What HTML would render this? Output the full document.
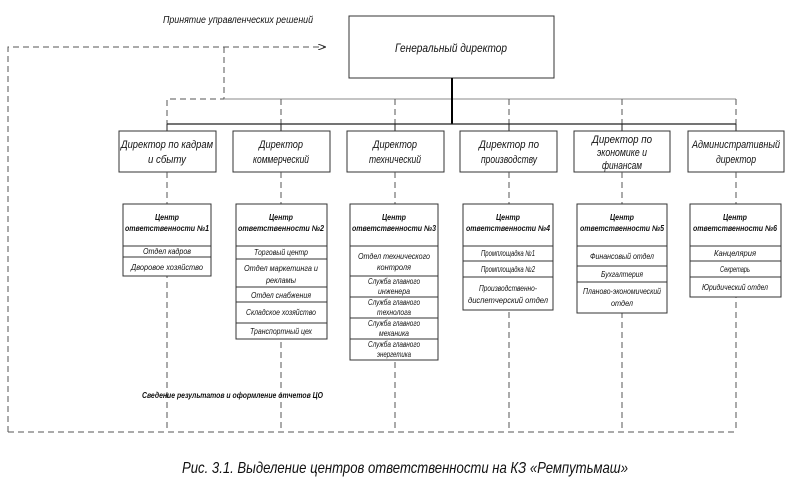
<!DOCTYPE html>
<html><head><meta charset="utf-8"><style>
html,body{margin:0;padding:0;background:#fff;}
svg{display:block;}
text{font-family:"Liberation Sans","DejaVu Sans",sans-serif;font-style:italic;fill:#111;}
.d{stroke:#555;stroke-width:1;stroke-dasharray:6,4;fill:none;}
.b{fill:#fff;stroke:#333;stroke-width:1;}
</style></head><body>
<svg width="806" height="497" viewBox="0 0 806 497" xmlns="http://www.w3.org/2000/svg">
<defs><marker id="ar" markerWidth="8" markerHeight="6" refX="7" refY="3" orient="auto"><path d="M0,0 L8,3 L0,6" fill="none" stroke="#333" stroke-width="1"/></marker></defs>

<!-- top feedback -->
<text x="163" y="23" font-size="10" textLength="150" lengthAdjust="spacingAndGlyphs">Принятие управленческих решений</text>
<path class="d" d="M8,432 L8,47 L325,47" marker-end="url(#ar)"/>
<path class="d" d="M224,47 L224,99 L167,99 L167,131"/>
<line x1="224" y1="99" x2="736" y2="99" stroke="#888" stroke-width="1"/>
<g class="d"><path d="M281,99V131M395,99V131M509,99V131M622,99V131M736,99V131"/></g>

<!-- general director -->
<rect class="b" x="349" y="16" width="205" height="62"/>
<text x="451" y="52" font-size="12" text-anchor="middle" textLength="112" lengthAdjust="spacingAndGlyphs">Генеральный директор</text>
<line x1="452" y1="78" x2="452" y2="124" stroke="#000" stroke-width="2"/>
<line x1="167" y1="124" x2="736" y2="124" stroke="#222" stroke-width="1.2"/>
<g stroke="#222"><path d="M167,124V131M281,124V131M395,124V131M509,124V131M622,124V131M736,124V131"/></g>

<!-- directors -->
<g font-size="11">
<rect class="b" x="119" y="131" width="97" height="41"/>
<text x="167" y="148" text-anchor="middle" textLength="92" lengthAdjust="spacingAndGlyphs">Директор по кадрам</text>
<text x="167" y="163" text-anchor="middle" textLength="38" lengthAdjust="spacingAndGlyphs">и сбыту</text>
<rect class="b" x="233" y="131" width="97" height="41"/>
<text x="281" y="148" text-anchor="middle" textLength="44" lengthAdjust="spacingAndGlyphs">Директор</text>
<text x="281" y="163" text-anchor="middle" textLength="56" lengthAdjust="spacingAndGlyphs">коммерческий</text>
<rect class="b" x="347" y="131" width="97" height="41"/>
<text x="395" y="148" text-anchor="middle" textLength="44" lengthAdjust="spacingAndGlyphs">Директор</text>
<text x="395" y="163" text-anchor="middle" textLength="52" lengthAdjust="spacingAndGlyphs">технический</text>
<rect class="b" x="460" y="131" width="97" height="41"/>
<text x="509" y="148" text-anchor="middle" textLength="60" lengthAdjust="spacingAndGlyphs">Директор по</text>
<text x="509" y="163" text-anchor="middle" textLength="56" lengthAdjust="spacingAndGlyphs">производству</text>
<rect class="b" x="574" y="131" width="96" height="41"/>
<text x="622" y="143" text-anchor="middle" textLength="60" lengthAdjust="spacingAndGlyphs">Директор по</text>
<text x="622" y="156" text-anchor="middle" textLength="50" lengthAdjust="spacingAndGlyphs">экономике и</text>
<text x="622" y="169" text-anchor="middle" textLength="40" lengthAdjust="spacingAndGlyphs">финансам</text>
<rect class="b" x="688" y="131" width="96" height="41"/>
<text x="736" y="148" text-anchor="middle" textLength="88" lengthAdjust="spacingAndGlyphs">Административный</text>
<text x="736" y="163" text-anchor="middle" textLength="40" lengthAdjust="spacingAndGlyphs">директор</text>
</g>

<!-- dashed verticals to bottom -->
<g class="d"><path d="M167,172V432M281,172V432M395,172V432M509,172V432M622,172V432M736,172V432"/></g>
<path class="d" d="M8,432H736"/>
<text x="142" y="398" font-size="8" font-weight="bold" textLength="181" lengthAdjust="spacingAndGlyphs">Сведение результатов и оформление отчетов ЦО</text>

<!-- centers -->
<g font-size="8">
<!-- 1 -->
<rect class="b" x="123" y="204" width="88" height="72"/>
<line x1="123" y1="246" x2="211" y2="246" stroke="#333"/><line x1="123" y1="257" x2="211" y2="257" stroke="#333"/>
<text x="167" y="220" text-anchor="middle" font-weight="bold" textLength="24" lengthAdjust="spacingAndGlyphs">Центр</text>
<text x="167" y="231" text-anchor="middle" font-weight="bold" textLength="84" lengthAdjust="spacingAndGlyphs">ответственности №1</text>
<text x="167" y="254" text-anchor="middle" textLength="48" lengthAdjust="spacingAndGlyphs">Отдел кадров</text>
<text x="167" y="270" text-anchor="middle" textLength="72" lengthAdjust="spacingAndGlyphs">Дворовое хозяйство</text>
<!-- 2 -->
<rect class="b" x="236" y="204" width="91" height="135"/>
<g stroke="#333"><path d="M236,246H327M236,259H327M236,287H327M236,302H327M236,323H327"/></g>
<text x="281" y="220" text-anchor="middle" font-weight="bold" textLength="24" lengthAdjust="spacingAndGlyphs">Центр</text>
<text x="281" y="231" text-anchor="middle" font-weight="bold" textLength="86" lengthAdjust="spacingAndGlyphs">ответственности №2</text>
<text x="281" y="255" text-anchor="middle" textLength="54" lengthAdjust="spacingAndGlyphs">Торговый центр</text>
<text x="281" y="271" text-anchor="middle" textLength="74" lengthAdjust="spacingAndGlyphs">Отдел маркетинга и</text>
<text x="281" y="283" text-anchor="middle" textLength="30" lengthAdjust="spacingAndGlyphs">рекламы</text>
<text x="281" y="298" text-anchor="middle" textLength="60" lengthAdjust="spacingAndGlyphs">Отдел снабжения</text>
<text x="281" y="315" text-anchor="middle" textLength="70" lengthAdjust="spacingAndGlyphs">Складское хозяйство</text>
<text x="281" y="334" text-anchor="middle" textLength="62" lengthAdjust="spacingAndGlyphs">Транспортный цех</text>
<!-- 3 -->
<rect class="b" x="350" y="204" width="88" height="156"/>
<g stroke="#333"><path d="M350,246H438M350,276H438M350,297H438M350,318H438M350,339H438"/></g>
<text x="394" y="220" text-anchor="middle" font-weight="bold" textLength="24" lengthAdjust="spacingAndGlyphs">Центр</text>
<text x="394" y="231" text-anchor="middle" font-weight="bold" textLength="84" lengthAdjust="spacingAndGlyphs">ответственности №3</text>
<text x="394" y="259" text-anchor="middle" textLength="72" lengthAdjust="spacingAndGlyphs">Отдел технического</text>
<text x="394" y="270" text-anchor="middle" textLength="34" lengthAdjust="spacingAndGlyphs">контроля</text>
<text x="394" y="284" text-anchor="middle" textLength="52" lengthAdjust="spacingAndGlyphs">Служба главного</text>
<text x="394" y="294" text-anchor="middle" textLength="32" lengthAdjust="spacingAndGlyphs">инженера</text>
<text x="394" y="305" text-anchor="middle" textLength="52" lengthAdjust="spacingAndGlyphs">Служба главного</text>
<text x="394" y="315" text-anchor="middle" textLength="34" lengthAdjust="spacingAndGlyphs">технолога</text>
<text x="394" y="326" text-anchor="middle" textLength="52" lengthAdjust="spacingAndGlyphs">Служба главного</text>
<text x="394" y="336" text-anchor="middle" textLength="30" lengthAdjust="spacingAndGlyphs">механика</text>
<text x="394" y="347" text-anchor="middle" textLength="52" lengthAdjust="spacingAndGlyphs">Служба главного</text>
<text x="394" y="357" text-anchor="middle" textLength="34" lengthAdjust="spacingAndGlyphs">энергетика</text>
<!-- 4 -->
<rect class="b" x="463" y="204" width="90" height="106"/>
<g stroke="#333"><path d="M463,246H553M463,261H553M463,277H553"/></g>
<text x="508" y="220" text-anchor="middle" font-weight="bold" textLength="24" lengthAdjust="spacingAndGlyphs">Центр</text>
<text x="508" y="231" text-anchor="middle" font-weight="bold" textLength="84" lengthAdjust="spacingAndGlyphs">ответственности №4</text>
<text x="508" y="256" text-anchor="middle" textLength="54" lengthAdjust="spacingAndGlyphs">Промплощадка №1</text>
<text x="508" y="272" text-anchor="middle" textLength="54" lengthAdjust="spacingAndGlyphs">Промплощадка №2</text>
<text x="508" y="291" text-anchor="middle" textLength="58" lengthAdjust="spacingAndGlyphs">Производственно-</text>
<text x="508" y="303" text-anchor="middle" textLength="80" lengthAdjust="spacingAndGlyphs">диспетчерский отдел</text>
<!-- 5 -->
<rect class="b" x="577" y="204" width="90" height="109"/>
<g stroke="#333"><path d="M577,246H667M577,266H667M577,282H667"/></g>
<text x="622" y="220" text-anchor="middle" font-weight="bold" textLength="24" lengthAdjust="spacingAndGlyphs">Центр</text>
<text x="622" y="231" text-anchor="middle" font-weight="bold" textLength="84" lengthAdjust="spacingAndGlyphs">ответственности №5</text>
<text x="622" y="259" text-anchor="middle" textLength="64" lengthAdjust="spacingAndGlyphs">Финансовый отдел</text>
<text x="622" y="277" text-anchor="middle" textLength="42" lengthAdjust="spacingAndGlyphs">Бухгалтерия</text>
<text x="622" y="294" text-anchor="middle" textLength="78" lengthAdjust="spacingAndGlyphs">Планово-экономический</text>
<text x="622" y="306" text-anchor="middle" textLength="22" lengthAdjust="spacingAndGlyphs">отдел</text>
<!-- 6 -->
<rect class="b" x="690" y="204" width="91" height="93"/>
<g stroke="#333"><path d="M690,246H781M690,261H781M690,277H781"/></g>
<text x="735" y="220" text-anchor="middle" font-weight="bold" textLength="24" lengthAdjust="spacingAndGlyphs">Центр</text>
<text x="735" y="231" text-anchor="middle" font-weight="bold" textLength="84" lengthAdjust="spacingAndGlyphs">ответственности №6</text>
<text x="735" y="256" text-anchor="middle" textLength="42" lengthAdjust="spacingAndGlyphs">Канцелярия</text>
<text x="735" y="272" text-anchor="middle" textLength="30" lengthAdjust="spacingAndGlyphs">Секретарь</text>
<text x="735" y="290" text-anchor="middle" textLength="66" lengthAdjust="spacingAndGlyphs">Юридический отдел</text>
</g>

<text x="182" y="473" font-size="16" textLength="446" lengthAdjust="spacingAndGlyphs">Рис. 3.1. Выделение центров ответственности на КЗ «Ремпутьмаш»</text>
</svg>
</body></html>
